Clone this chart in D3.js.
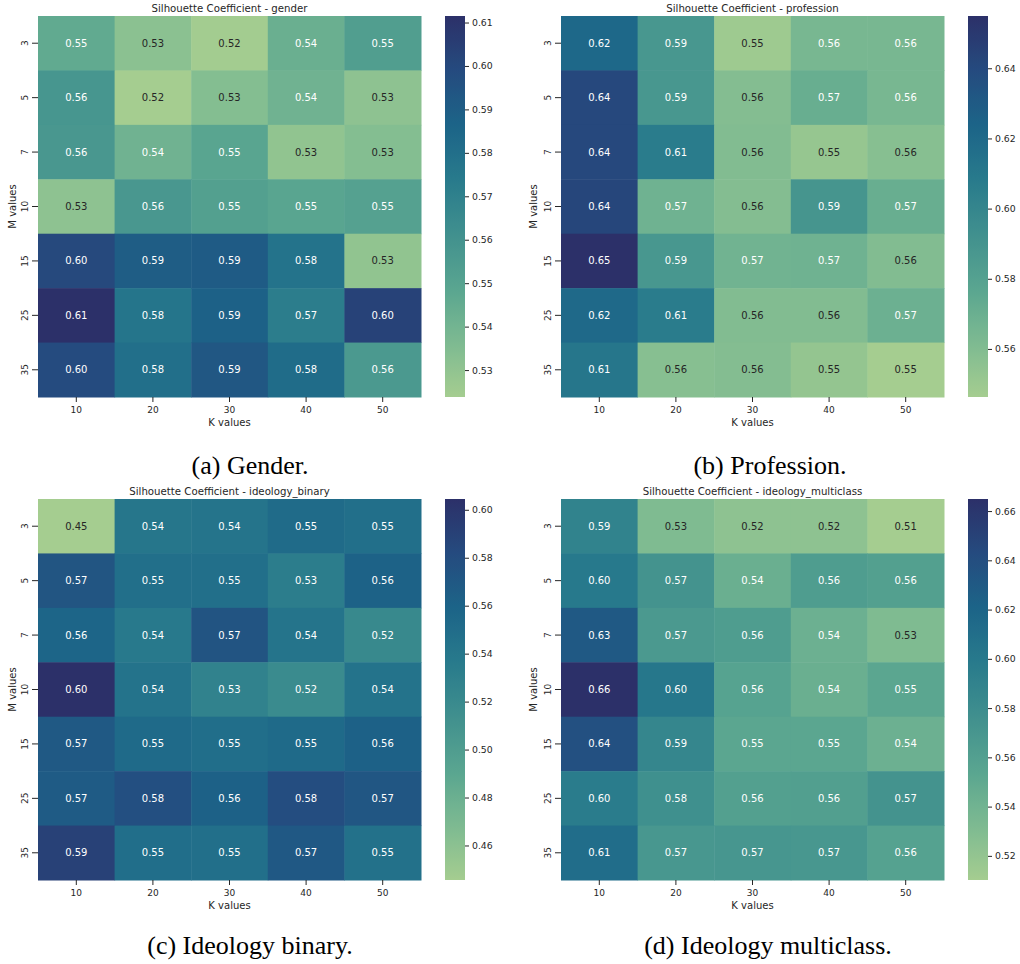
<!DOCTYPE html>
<html>
<head>
<meta charset="utf-8">
<script src="https://cdn.jsdelivr.net/npm/d3@7"></script>
<style>
  html, body { margin: 0; padding: 0; background: #ffffff; }
  svg { display: block; }
  text { font-family: "DejaVu Sans", sans-serif; fill: #262626; }
  .caption { font-family: "Liberation Serif", "Times New Roman", serif; fill: #000; }
</style>
</head>
<body>
<svg id="chart" width="1020" height="964"></svg>
<script>
// Grid axes
const kValues = [10, 20, 30, 40, 50];
const mValues = [3, 5, 7, 10, 15, 25, 35];

// Silhouette coefficients, rows = M values, columns = K values
const genderScores = [
  [0.546, 0.532, 0.5245, 0.543, 0.553],
  [0.558, 0.5238, 0.534, 0.541, 0.531],
  [0.557, 0.541, 0.549, 0.530, 0.534],
  [0.531, 0.557, 0.552, 0.549, 0.551],
  [0.600, 0.590, 0.591, 0.578, 0.530],
  [0.6115, 0.577, 0.588, 0.572, 0.603],
  [0.599, 0.580, 0.593, 0.582, 0.556]
];
const professionScores = [
  [0.621, 0.588, 0.549, 0.564, 0.564],
  [0.641, 0.588, 0.559, 0.571, 0.564],
  [0.641, 0.607, 0.560, 0.552, 0.558],
  [0.642, 0.568, 0.559, 0.589, 0.571],
  [0.6549, 0.588, 0.567, 0.568, 0.560],
  [0.620, 0.607, 0.560, 0.560, 0.569],
  [0.611, 0.558, 0.559, 0.553, 0.5463]
];
const binaryScores = [
  [0.4456, 0.541, 0.543, 0.552, 0.548],
  [0.573, 0.548, 0.548, 0.533, 0.561],
  [0.558, 0.537, 0.574, 0.543, 0.521],
  [0.6045, 0.544, 0.528, 0.519, 0.544],
  [0.569, 0.553, 0.549, 0.553, 0.562],
  [0.567, 0.578, 0.562, 0.580, 0.572],
  [0.590, 0.549, 0.548, 0.570, 0.546]
];
const multiclassScores = [
  [0.590, 0.531, 0.523, 0.523, 0.5102],
  [0.600, 0.573, 0.544, 0.563, 0.560],
  [0.630, 0.567, 0.563, 0.543, 0.531],
  [0.6649, 0.602, 0.557, 0.544, 0.553],
  [0.638, 0.587, 0.553, 0.553, 0.543],
  [0.597, 0.577, 0.560, 0.561, 0.573],
  [0.612, 0.569, 0.570, 0.569, 0.558]
];

// Colorbar tick labels
const genderTicks = [0.53, 0.54, 0.55, 0.56, 0.57, 0.58, 0.59, 0.60, 0.61];
const professionTicks = [0.56, 0.58, 0.60, 0.62, 0.64];
const binaryTicks = [0.46, 0.48, 0.50, 0.52, 0.54, 0.56, 0.58, 0.60];
const multiclassTicks = [0.52, 0.54, 0.56, 0.58, 0.60, 0.62, 0.64, 0.66];

const titles = [
  "Silhouette Coefficient - gender",
  "Silhouette Coefficient - profession",
  "Silhouette Coefficient - ideology_binary",
  "Silhouette Coefficient - ideology_multiclass"
];
const captions = ["(a) Gender.", "(b) Profession.", "(c) Ideology binary.", "(d) Ideology multiclass."];

// "crest"-style sequential colormap, light green to deep navy
const crestStops = ["#a5cd90", "#7dba91", "#59a590", "#40908e", "#287a8c", "#1c6488", "#254b7f", "#2c3069"];
const crest = d3.scaleLinear()
  .domain(crestStops.map((_, i) => i / (crestStops.length - 1)))
  .range(crestStops)
  .interpolate(d3.interpolateRgb)
  .clamp(true);

function textColorFor(fill) {
  const c = d3.rgb(fill);
  const lin = v => { v /= 255; return v <= 0.03928 ? v / 12.92 : Math.pow((v + 0.055) / 1.055, 2.4); };
  const lum = 0.2126 * lin(c.r) + 0.7152 * lin(c.g) + 0.0722 * lin(c.b);
  return lum > 0.408 ? "#262626" : "#ffffff";
}

const panels = [
  { scores: genderScores, ticks: genderTicks, left: 38, top: 16, capX: 250, capY: 473.5 },
  { scores: professionScores, ticks: professionTicks, left: 561, top: 16, capX: 770, capY: 473.5 },
  { scores: binaryScores, ticks: binaryTicks, left: 38, top: 499, capX: 250, capY: 954 },
  { scores: multiclassScores, ticks: multiclassTicks, left: 561, top: 499, capX: 768, capY: 954 }
];

const W = 383, H = 381, CB_GAP = 24, CB_W = 20;
const svg = d3.select("#chart");
const defs = svg.append("defs");

panels.forEach((p, pi) => {
  const flat = p.scores.flat();
  const vmin = d3.min(flat), vmax = d3.max(flat);
  const color = v => crest((v - vmin) / (vmax - vmin));

  const g = svg.append("g").attr("transform", `translate(${p.left},${p.top})`);
  const x = d3.scaleBand().domain(kValues).range([0, W]).padding(0);
  const y = d3.scaleBand().domain(mValues).range([0, H]).padding(0);

  const cells = [];
  p.scores.forEach((row, ri) => row.forEach((v, ci) => cells.push({ m: mValues[ri], k: kValues[ci], v })));

  g.selectAll("rect.cell").data(cells).join("rect")
    .attr("class", "cell")
    .attr("x", d => x(d.k))
    .attr("y", d => y(d.m))
    .attr("width", x.bandwidth() + 0.5)
    .attr("height", y.bandwidth() + 0.5)
    .attr("fill", d => color(d.v));

  g.selectAll("text.annot").data(cells).join("text")
    .attr("class", "annot")
    .attr("x", d => x(d.k) + x.bandwidth() / 2)
    .attr("y", d => y(d.m) + y.bandwidth() / 2)
    .attr("text-anchor", "middle")
    .attr("dominant-baseline", "central")
    .style("font-size", "10px")
    .style("fill", d => textColorFor(color(d.v)))
    .text(d => d3.format(".2f")(d.v));

  // x axis
  const xa = g.append("g").attr("transform", `translate(0,${H})`);
  kValues.forEach(k => {
    const cx = x(k) + x.bandwidth() / 2;
    xa.append("line").attr("x1", cx).attr("x2", cx).attr("y1", 0).attr("y2", 5)
      .attr("stroke", "#262626").attr("stroke-width", 1);
    xa.append("text").attr("x", cx).attr("y", 15.5).attr("text-anchor", "middle")
      .style("font-size", "9px").text(k);
  });
  g.append("text").attr("x", W / 2).attr("y", H + 29).attr("text-anchor", "middle")
    .style("font-size", "10px").text("K values");

  // y axis
  mValues.forEach(m => {
    const cy = y(m) + y.bandwidth() / 2;
    g.append("line").attr("x1", -6).attr("x2", 0).attr("y1", cy).attr("y2", cy)
      .attr("stroke", "#262626").attr("stroke-width", 1);
    g.append("text")
      .attr("transform", `translate(-13.5,${cy}) rotate(-90)`)
      .attr("text-anchor", "middle").attr("dominant-baseline", "central")
      .style("font-size", "9px").text(m);
  });
  g.append("text")
    .attr("transform", `translate(${pi % 2 === 0 ? -26 : -28},${H / 2}) rotate(-90)`)
    .attr("text-anchor", "middle").attr("dominant-baseline", "central")
    .style("font-size", "10px").text("M values");

  // title
  g.append("text").attr("x", W / 2).attr("y", -4.5).attr("text-anchor", "middle")
    .style("font-size", "10.2px").text(titles[pi]);

  // colorbar
  const cbX = W + CB_GAP;
  const gradId = "cb" + pi;
  const grad = defs.append("linearGradient").attr("id", gradId)
    .attr("x1", 0).attr("y1", 1).attr("x2", 0).attr("y2", 0);
  d3.range(0, 1.0001, 0.02).forEach(t => {
    grad.append("stop").attr("offset", t).attr("stop-color", crest(t));
  });
  g.append("rect").attr("x", cbX).attr("y", 0).attr("width", CB_W).attr("height", H)
    .attr("fill", `url(#${gradId})`);
  const cy = d3.scaleLinear().domain([vmin, vmax]).range([H, 0]);
  const cbAxis = d3.axisRight(cy).tickValues(p.ticks).tickFormat(d3.format(".2f")).tickSize(4).tickPadding(3);
  const ca = g.append("g").attr("transform", `translate(${cbX + CB_W},0)`).call(cbAxis);
  ca.select(".domain").remove();
  ca.selectAll(".tick line").attr("stroke", "#262626");
  ca.selectAll(".tick text").style("font-size", "9.3px").style("font-family", "DejaVu Sans, sans-serif").attr("fill", "#262626");

  // subfigure caption
  svg.append("text").attr("class", "caption")
    .attr("x", p.capX).attr("y", p.capY).attr("text-anchor", "middle")
    .style("font-size", "26px").text(captions[pi]);
});
</script>
</body>
</html>
